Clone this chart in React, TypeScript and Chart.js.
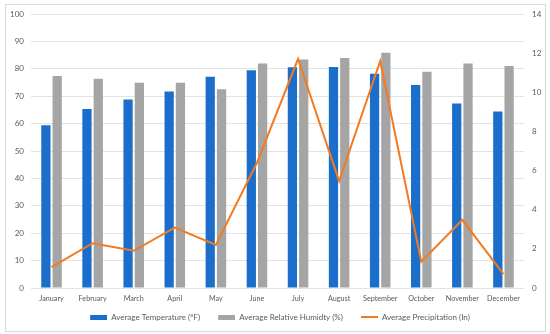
import React, { useEffect, useRef } from "react";
import { Chart, registerables } from "chart.js";

Chart.register(...registerables);

const months = ["January", "February", "March", "April", "May", "June", "July", "August", "September", "October", "November", "December"];
const temperature = [59.4, 65.3, 68.8, 71.7, 77.1, 79.5, 80.6, 80.7, 78.2, 74.1, 67.3, 64.4];
const humidity = [77.4, 76.4, 74.9, 74.9, 72.5, 81.9, 83.4, 83.9, 85.9, 78.9, 81.9, 81.0];
const precipitation = [1.07, 2.29, 1.9, 3.09, 2.2, 6.4, 11.7, 5.46, 11.6, 1.34, 3.48, 0.71];

const leftTicks = [0, 10, 20, 30, 40, 50, 60, 70, 80, 90, 100];
const rightTicks = [0, 2, 4, 6, 8, 10, 12, 14];

const BLUE = "#1B6FCA";
const GRAY = "#A5A5A5";
const ORANGE = "#F47A20";
const TEXT = "#595959";
const FONT = "Lato, 'Open Sans', sans-serif";

// swatch with a transparent lead-in so legend items are spaced like the reference
function makeSwatch(color: string, lead: number, w: number, h: number) {
  const c = document.createElement("canvas");
  c.width = lead + w;
  c.height = h;
  const ctx = c.getContext("2d")!;
  ctx.fillStyle = color;
  ctx.fillRect(lead, 0, w, h);
  return c;
}

export default function App() {
  const ref = useRef<HTMLCanvasElement>(null);
  useEffect(() => {
    document.body.style.margin = "0";
    const LEAD = 10;
    const swatches = [makeSwatch(BLUE, LEAD, 17, 5), makeSwatch(GRAY, LEAD, 17, 5), makeSwatch(ORANGE, LEAD, 17, 2)];
    const chart = new Chart(ref.current!, {
      type: "bar",
      data: {
        labels: months,
        datasets: [
          { type: "bar", label: "Average Temperature (°F)", data: temperature, backgroundColor: BLUE, yAxisID: "y", order: 1, categoryPercentage: 0.55, barPercentage: 0.82 },
          { type: "bar", label: "Average Relative Humidty (%)", data: humidity, backgroundColor: GRAY, yAxisID: "y", order: 1, categoryPercentage: 0.55, barPercentage: 0.82 },
          { type: "line", label: "Average Precipitation (In)", data: precipitation, borderColor: ORANGE, backgroundColor: ORANGE, borderWidth: 2, pointRadius: 0, tension: 0, yAxisID: "y1", order: 0 } as any,
        ],
      },
      options: {
        animation: false,
        responsive: false,
        layout: { padding: { top: 14, left: 0, right: 0, bottom: 3 } },
        plugins: {
          tooltip: { enabled: false },
          legend: {
            position: "bottom",
            labels: {
              usePointStyle: true,
              pointStyleWidth: 17 + LEAD,
              boxHeight: 8,
              padding: 8,
              color: TEXT,
              font: { family: FONT, size: 8 },
              sort: (a: any, b: any) => a.datasetIndex - b.datasetIndex,
              generateLabels: (chart: any) => {
                const items = Chart.defaults.plugins.legend.labels.generateLabels(chart);
                items.forEach((it: any) => { it.pointStyle = swatches[it.datasetIndex]; });
                return items;
              },
            },
          },
        },
        scales: {
          x: {
            grid: { display: false, drawTicks: false },
            border: { display: false },
            afterFit: (s: any) => { s.height = 17; },
            ticks: { color: TEXT, font: { family: FONT, size: 7.2 }, maxRotation: 0, autoSkip: false, padding: 6 },
          },
          y: {
            position: "left", min: 0, max: 100,
            afterBuildTicks: (s: any) => { s.ticks = leftTicks.map((v) => ({ value: v })); },
            afterFit: (s: any) => { s.width = 31; },
            grid: { color: "#E3E3E3", drawTicks: false }, border: { display: false },
            ticks: { color: TEXT, font: { family: FONT, size: 8 }, padding: 7 },
          },
          y1: {
            position: "right", min: 0, max: 14,
            afterBuildTicks: (s: any) => { s.ticks = rightTicks.map((v) => ({ value: v })); },
            afterFit: (s: any) => { s.width = 26; },
            grid: { drawOnChartArea: false, drawTicks: false }, border: { display: false },
            ticks: { color: TEXT, font: { family: FONT, size: 8 }, padding: 8 },
          },
        },
      },
    });
    return () => chart.destroy();
  }, []);
  return (
    <div style={{ position: "relative", width: 550, height: 334, background: "#fff" }}>
      <div style={{ position: "absolute", left: 5, top: 4, width: 539, height: 326, border: "1px solid #D9D9D9" }} />
      <canvas ref={ref} width={550} height={334} style={{ position: "absolute", left: 0, top: 0 }} />
    </div>
  );
}
